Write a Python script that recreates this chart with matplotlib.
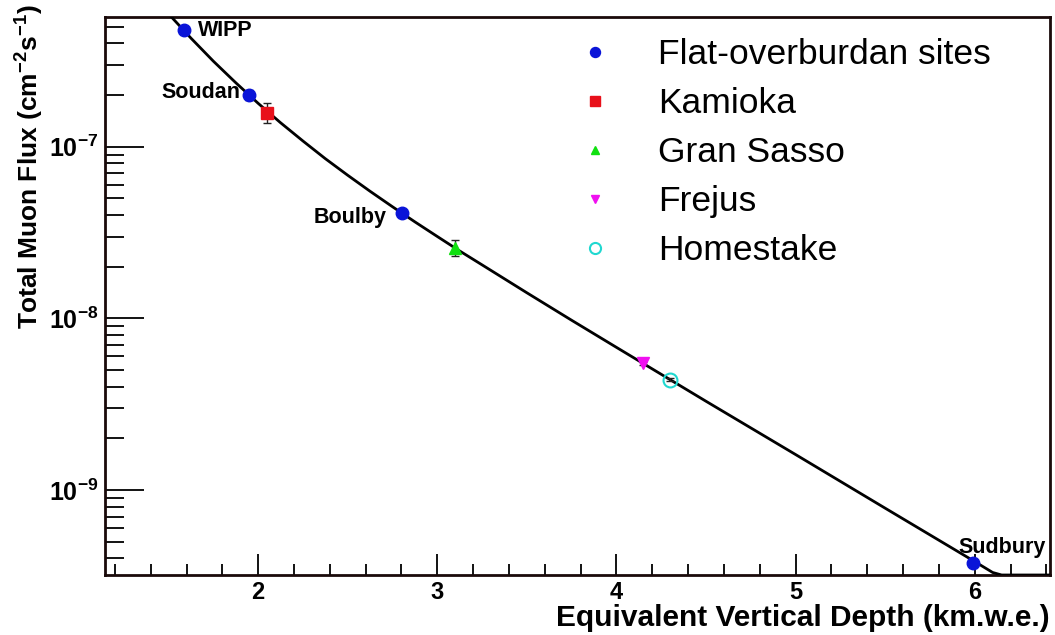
import numpy as np
import matplotlib
matplotlib.use("Agg")
import matplotlib.pyplot as plt
from matplotlib.lines import Line2D
from matplotlib.ticker import NullFormatter

plt.rcParams["font.family"] = ["Liberation Sans", "DejaVu Sans"]

# ---- data ---------------------------------------------------------------
site_names = ["WIPP", "Soudan", "Kamioka", "Boulby", "Gran Sasso",
              "Frejus", "Homestake", "Sudbury"]
site_depth = [1.585, 1.95, 2.05, 2.805, 3.10, 4.15, 4.30, 5.99]
site_flux = [4.77e-7, 2.00e-7, 1.58e-7, 4.09e-8, 2.58e-8, 5.47e-9, 4.40e-9, 3.77e-10]
site_err = [0.09e-7, 0.14e-7, 0.21e-7, 0.15e-8, 0.28e-8, 0.10e-9, 0.10e-9, 0.04e-10]

# fitted curve, sampled along the drawn line
curve_depth = [1.50, 1.625, 1.75, 1.875, 2.00, 2.125, 2.25, 2.375, 2.50, 2.625,
               2.75, 2.875, 3.00, 3.125, 3.25, 3.50, 3.75, 4.00, 4.50, 5.00,
               5.50, 6.00, 6.10, 6.15, 6.25, 6.50]
curve_flux = [5.94e-7, 4.29e-7, 3.15e-7, 2.36e-7, 1.79e-7, 1.38e-7, 1.08e-7,
              8.52e-8, 6.82e-8, 5.50e-8, 4.47e-8, 3.65e-8, 3.00e-8, 2.47e-8,
              2.05e-8, 1.41e-8, 9.75e-9, 6.78e-9, 3.29e-9, 1.61e-9, 7.84e-10,
              3.83e-10, 3.31e-10, 3.08e-10, 2.67e-10, 1.88e-10]

legend_labels = ["Flat-overburdan sites", "Kamioka", "Gran Sasso", "Frejus", "Homestake"]
x_major = [2, 3, 4, 5, 6]
y_major = [1e-9, 1e-8, 1e-7]

XMIN, XMAX = 1.145, 6.42
YMIN, YMAX = 3.2e-10, 5.7e-7

fig = plt.figure(figsize=(10.55, 6.35), dpi=100)
ax = fig.add_axes([105 / 1055, 1 - 575 / 635, 945 / 1055, 558 / 635])
ax.set_yscale("log")

# curve (ROOT-like: clipped part runs along the lower frame)
ax.plot(curve_depth, np.maximum(curve_flux, YMIN), color="black", lw=2.0,
        zorder=3, solid_joinstyle="round")

styles = {
    "flat": dict(marker="o", color="#0a14d8", mfc="#0a14d8", ms=9),
    "Kamioka": dict(marker="s", color="#e8101a", mfc="#e8101a", ms=8.5),
    "Gran Sasso": dict(marker="^", color="#10e010", mfc="#10e010", ms=8),
    "Frejus": dict(marker="v", color="#f010f0", mfc="#f010f0", ms=8),
    "Homestake": dict(marker="o", color="#20d8d0", mfc="none", ms=10, mew=1.5),
}

for name, x, y, e in zip(site_names, site_depth, site_flux, site_err):
    st = styles.get(name, styles["flat"])
    ax.errorbar([x], [y], yerr=[e], fmt="none", ecolor="#222222",
                elinewidth=1.0, capsize=3, capthick=1.0, zorder=4)
    ax.plot([x], [y], ls="none", zorder=5, **st)

# site labels
lab_kw = dict(fontsize=15.5, fontweight="bold", textcoords="offset points")
ax.annotate("WIPP", (site_depth[0], site_flux[0]), xytext=(10, 0), ha="left", va="center", **lab_kw)
ax.annotate("Soudan", (site_depth[1], site_flux[1]), xytext=(-6, 2), ha="right", va="center", **lab_kw)
ax.annotate("Boulby", (site_depth[3], site_flux[3]), xytext=(-11, -3), ha="right", va="center", **lab_kw)
ax.annotate("Sudbury", (site_depth[7], site_flux[7]), xytext=(21, 11), ha="center", va="center", **lab_kw)

# legend
keys = ["flat", "Kamioka", "Gran Sasso", "Frejus", "Homestake"]
handles = []
for k in keys:
    st = dict(styles[k])
    st["ms"] = st["ms"] * 0.8
    handles.append(Line2D([], [], ls="none", **st))
ax.legend(handles, legend_labels, loc="upper left", bbox_to_anchor=(0.4995, 0.9615),
          frameon=False, fontsize=25.5, handlelength=1.0, handletextpad=1.28,
          labelspacing=0.45, borderpad=0, borderaxespad=0)

# axes cosmetics
for sp in ax.spines.values():
    sp.set_linewidth(2.0)
    sp.set_color("#1a0a0a")
ax.set_xticks(x_major)
ax.set_xticks(np.arange(1.2, 6.41, 0.2), minor=True)
ax.set_yticks(y_major)
ax.xaxis.set_minor_formatter(NullFormatter())
ax.yaxis.set_minor_formatter(NullFormatter())
ax.set_xlim(XMIN, XMAX)
ax.set_ylim(YMIN, YMAX)
ax.tick_params(axis="x", which="major", direction="in", length=15, width=1.3,
               labelsize=17, pad=4, top=False)
ax.tick_params(axis="x", which="minor", direction="in", length=8, width=1.3, top=False)
ax.tick_params(axis="y", which="major", direction="in", length=28, width=1.3,
               labelsize=18, pad=5, right=False)
ax.tick_params(axis="y", which="minor", direction="in", length=14, width=1.3, right=False)
for lbl in ax.get_xticklabels() + ax.get_yticklabels():
    lbl.set_fontweight("bold")

ax.set_xlabel("Equivalent Vertical Depth (km.w.e.)", fontsize=21.5,
              fontweight="bold", loc="right")
ax.xaxis.set_label_coords(1.0, -0.052)
ax.set_ylabel(r"Total Muon Flux (cm$^{\mathdefault{-2}}$s$^{\mathdefault{-1}}$)",
              fontsize=19, fontweight="bold", loc="top")
ax.yaxis.set_label_coords(-0.064, 1.022)

fig.savefig("out.png", dpi=100)
